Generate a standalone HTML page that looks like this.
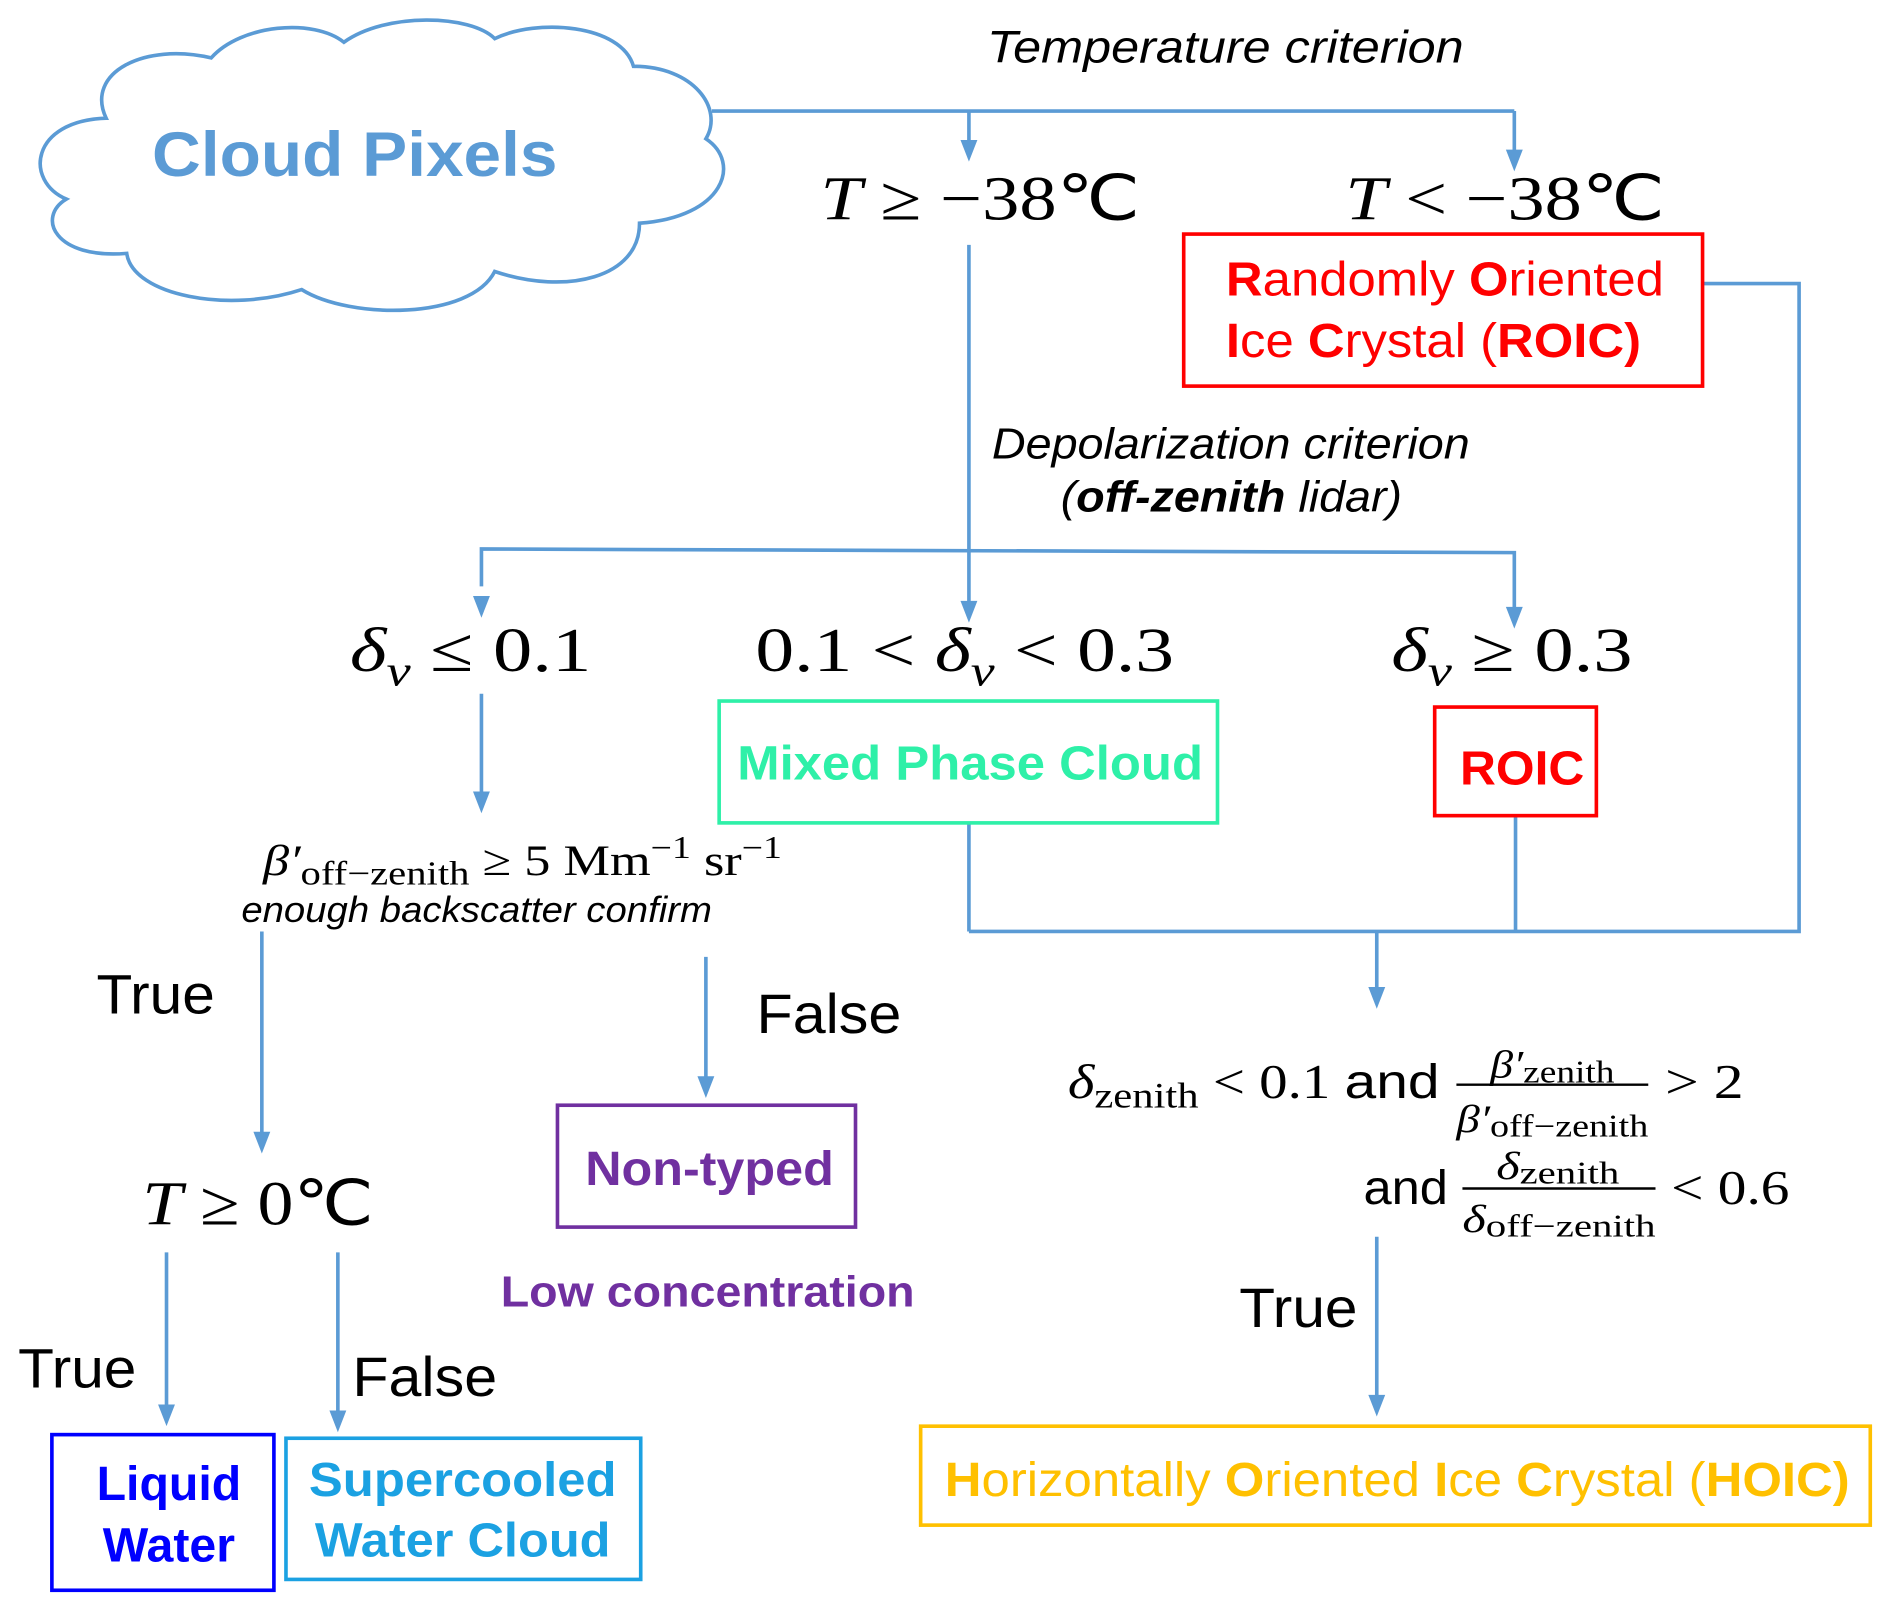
<!DOCTYPE html>
<html><head><meta charset="utf-8"><style>
html,body{margin:0;padding:0;background:#fff;}
svg{display:block;}
.s{font-family:"Liberation Sans",sans-serif;}
.m{font-family:"Liberation Serif",serif;}
</style></head><body>
<svg width="1892" height="1612" viewBox="0 0 1568 1336" preserveAspectRatio="none" xmlns="http://www.w3.org/2000/svg">
<g fill="none" stroke="#5b9bd5" stroke-width="3">
<path d="M88,98 C70,60 120,35 175,48 C200,20 260,15 285,35 C320,10 390,12 410,32 C445,15 515,20 525,55 C575,55 600,90 585,115 C615,135 600,180 530,185 C530,230 470,245 410,225 C390,265 290,265 250,240 C190,260 110,245 105,210 C45,215 30,180 55,165 C20,150 25,100 88,98 Z"/>
<polyline points="590,92 1255,92"/>
<line x1="803" y1="92" x2="803" y2="118"/>
<line x1="1255" y1="92" x2="1255" y2="126"/>
<polyline points="1411,235 1491,235 1491,772 803,772"/>
<line x1="803" y1="203" x2="803" y2="500"/>
<polyline points="399,486 399,455 1255,458 1255,505"/>
<line x1="803" y1="682" x2="803" y2="772"/>
<line x1="1256" y1="676" x2="1256" y2="772"/>
<line x1="1141" y1="772" x2="1141" y2="820"/>
<line x1="399" y1="575" x2="399" y2="658"/>
<line x1="217" y1="772" x2="217" y2="940"/>
<line x1="585" y1="793" x2="585" y2="894"/>
<line x1="138" y1="1038" x2="138" y2="1166"/>
<line x1="280" y1="1038" x2="280" y2="1171"/>
<line x1="1141" y1="1025" x2="1141" y2="1158"/>
</g>
<g fill="#5b9bd5">
<polygon points="796,116 810,116 803,134"/>
<polygon points="1248,124 1262,124 1255,142"/>
<polygon points="796,498 810,498 803,516"/>
<polygon points="392,494 406,494 399,512"/>
<polygon points="1248,503 1262,503 1255,521"/>
<polygon points="1134,818 1148,818 1141,836"/>
<polygon points="392,656 406,656 399,674"/>
<polygon points="210,938 224,938 217,956"/>
<polygon points="578,892 592,892 585,910"/>
<polygon points="131,1164 145,1164 138,1182"/>
<polygon points="273,1169 287,1169 280,1187"/>
<polygon points="1134,1156 1148,1156 1141,1174"/>
</g>
<g fill="none" stroke-width="3">
<rect x="981" y="194" width="430" height="126" stroke="#ff0000"/>
<rect x="596" y="581" width="413" height="101" stroke="#2ef0a8"/>
<rect x="1189" y="586" width="134" height="90" stroke="#ff0000"/>
<rect x="462" y="916" width="247" height="101" stroke="#7030a0"/>
<rect x="43" y="1189" width="184" height="129" stroke="#0000ff"/>
<rect x="237" y="1192" width="294" height="117" stroke="#1ba1e2"/>
<rect x="763" y="1182" width="787" height="82" stroke="#ffc000"/>
</g>
<g lengthAdjust="spacingAndGlyphs">
<text class="s" x="126" y="146" textLength="336" lengthAdjust="spacingAndGlyphs" font-size="52" font-weight="bold" fill="#5b9bd5">Cloud Pixels</text>
<text class="s" x="818" y="52" textLength="395" lengthAdjust="spacingAndGlyphs" font-size="38" font-style="italic">Temperature criterion</text>
<text class="m" x="680" y="182" textLength="265" lengthAdjust="spacingAndGlyphs" font-size="52"><tspan font-style="italic">T</tspan> ≥ −38℃</text>
<text class="m" x="1115" y="182" textLength="265" lengthAdjust="spacingAndGlyphs" font-size="52"><tspan font-style="italic">T</tspan> &lt; −38℃</text>
<text class="s" x="1016" y="245" textLength="363" lengthAdjust="spacingAndGlyphs" font-size="40" fill="#ff0000"><tspan font-weight="bold">R</tspan>andomly <tspan font-weight="bold">O</tspan>riented</text>
<text class="s" x="1016" y="296" textLength="344" lengthAdjust="spacingAndGlyphs" font-size="40" fill="#ff0000"><tspan font-weight="bold">I</tspan>ce <tspan font-weight="bold">C</tspan>rystal (<tspan font-weight="bold">ROIC)</tspan></text>
<text class="s" x="822" y="380" textLength="396" lengthAdjust="spacingAndGlyphs" font-size="36" font-style="italic">Depolarization criterion</text>
<text class="s" x="879" y="424" textLength="283" lengthAdjust="spacingAndGlyphs" font-size="36" font-style="italic">(<tspan font-weight="bold">off-zenith</tspan> lidar)</text>
<text class="m" x="290" y="556" textLength="200" lengthAdjust="spacingAndGlyphs" font-size="52"><tspan font-style="italic">δ<tspan font-size="36" dy="12">v</tspan></tspan><tspan dy="-12"> ≤ 0.1</tspan></text>
<text class="m" x="626" y="556" textLength="347" lengthAdjust="spacingAndGlyphs" font-size="52">0.1 &lt; <tspan font-style="italic">δ<tspan font-size="36" dy="12">v</tspan></tspan><tspan dy="-12"> &lt; 0.3</tspan></text>
<text class="m" x="1153" y="556" textLength="200" lengthAdjust="spacingAndGlyphs" font-size="52"><tspan font-style="italic">δ<tspan font-size="36" dy="12">v</tspan></tspan><tspan dy="-12"> ≥ 0.3</tspan></text>
<text class="s" x="611" y="646" textLength="386" lengthAdjust="spacingAndGlyphs" font-size="40" font-weight="bold" fill="#2ef0a8">Mixed Phase Cloud</text>
<text class="s" x="1210" y="650" textLength="103" lengthAdjust="spacingAndGlyphs" font-size="40" font-weight="bold" fill="#ff0000">ROIC</text>
<text class="m" x="218" y="725" textLength="430" lengthAdjust="spacingAndGlyphs" font-size="36"><tspan font-style="italic">β′</tspan><tspan font-size="28" dy="8">off−zenith</tspan><tspan dy="-8"> ≥ 5 Mm</tspan><tspan font-size="26" dy="-14">−1</tspan><tspan dy="14"> sr</tspan><tspan font-size="26" dy="-14">−1</tspan></text>
<text class="s" x="200" y="764" textLength="390" lengthAdjust="spacingAndGlyphs" font-size="30" font-style="italic">enough backscatter confirm</text>
<text class="s" x="80" y="840" textLength="98" lengthAdjust="spacingAndGlyphs" font-size="46">True</text>
<text class="s" x="627" y="856" textLength="120" lengthAdjust="spacingAndGlyphs" font-size="46">False</text>
<text class="s" x="485" y="982" textLength="206" lengthAdjust="spacingAndGlyphs" font-size="40" font-weight="bold" fill="#7030a0">Non-typed</text>
<text class="s" x="415" y="1083" textLength="343" lengthAdjust="spacingAndGlyphs" font-size="36" font-weight="bold" fill="#7030a0">Low concentration</text>
<text class="m" x="118" y="1015" textLength="192" lengthAdjust="spacingAndGlyphs" font-size="52"><tspan font-style="italic">T</tspan> ≥ 0℃</text>
<text class="s" x="15" y="1150" textLength="98" lengthAdjust="spacingAndGlyphs" font-size="46">True</text>
<text class="s" x="292" y="1157" textLength="120" lengthAdjust="spacingAndGlyphs" font-size="46">False</text>
<text class="s" x="140" y="1243" text-anchor="middle" font-size="40" font-weight="bold" fill="#0000ff">Liquid</text>
<text class="s" x="140" y="1294" text-anchor="middle" font-size="40" font-weight="bold" fill="#0000ff">Water</text>
<text class="s" x="256" y="1240" textLength="255" lengthAdjust="spacingAndGlyphs" font-size="40" font-weight="bold" fill="#1ba1e2">Supercooled</text>
<text class="s" x="261" y="1290" textLength="245" lengthAdjust="spacingAndGlyphs" font-size="40" font-weight="bold" fill="#1ba1e2">Water Cloud</text>
<text class="m" x="885" y="910" textLength="308" lengthAdjust="spacingAndGlyphs" font-size="40"><tspan font-style="italic">δ</tspan><tspan font-size="30" dy="8">zenith</tspan><tspan dy="-8"> &lt; 0.1 </tspan><tspan font-family="Liberation Sans">and</tspan></text>
<text class="m" x="1235" y="893" textLength="103" lengthAdjust="spacingAndGlyphs" font-size="32"><tspan font-style="italic">β′</tspan><tspan font-size="26" dy="4">zenith</tspan></text>
<text class="m" x="1207" y="938" textLength="159" lengthAdjust="spacingAndGlyphs" font-size="32"><tspan font-style="italic">β′</tspan><tspan font-size="26" dy="4">off−zenith</tspan></text>
<text class="m" x="1380" y="910" textLength="65" lengthAdjust="spacingAndGlyphs" font-size="40">&gt; 2</text>
<text class="s" x="1130" y="998" textLength="70" lengthAdjust="spacingAndGlyphs" font-size="40">and</text>
<text class="m" x="1240" y="977" textLength="102" lengthAdjust="spacingAndGlyphs" font-size="32"><tspan font-style="italic">δ</tspan><tspan font-size="26" dy="4">zenith</tspan></text>
<text class="m" x="1212" y="1021" textLength="160" lengthAdjust="spacingAndGlyphs" font-size="32"><tspan font-style="italic">δ</tspan><tspan font-size="26" dy="4">off−zenith</tspan></text>
<text class="m" x="1385" y="998" textLength="98" lengthAdjust="spacingAndGlyphs" font-size="40">&lt; 0.6</text>
<text class="s" x="1027" y="1100" textLength="98" lengthAdjust="spacingAndGlyphs" font-size="46">True</text>
<text class="s" x="783" y="1240" textLength="750" lengthAdjust="spacingAndGlyphs" font-size="40" fill="#ffc000"><tspan font-weight="bold">H</tspan>orizontally <tspan font-weight="bold">O</tspan>riented <tspan font-weight="bold">I</tspan>ce <tspan font-weight="bold">C</tspan>rystal (<tspan font-weight="bold">HOIC)</tspan></text>
</g>
<line x1="1207" y1="899" x2="1366" y2="899" stroke="#000" stroke-width="2"/>
<line x1="1212" y1="985" x2="1372" y2="985" stroke="#000" stroke-width="2"/>
</svg>
</body></html>
